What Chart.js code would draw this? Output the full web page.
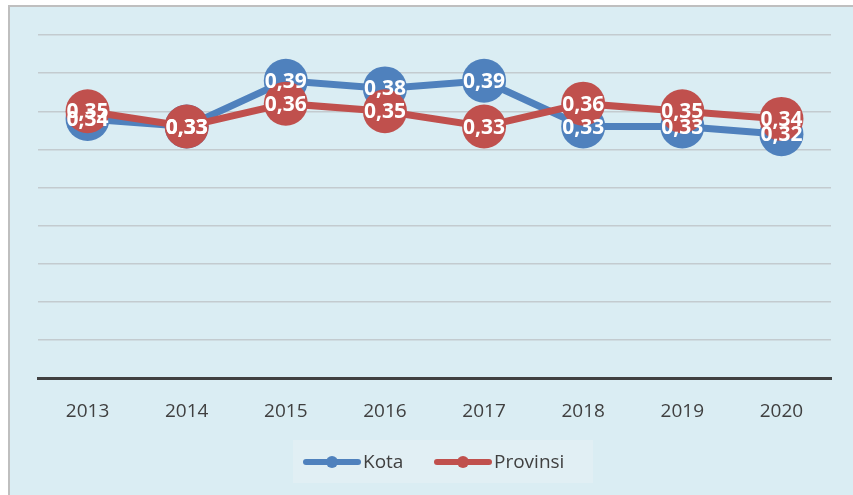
<!DOCTYPE html>
<html>
<head>
<meta charset="utf-8">
<script src="https://cdn.jsdelivr.net/npm/chart.js@4/dist/chart.umd.min.js"></script>
<style>
  html, body { margin: 0; padding: 0; background: #ffffff; }
  .box {
    position: absolute; left: 8px; top: 5px; width: 845px; height: 490px;
    border-left: 2px solid #bfbfbf; border-top: 2px solid #bfbfbf;
    background: #daedf3;
  }
  canvas { display: block; }
</style>
</head>
<body>
<div class="box">
  <canvas id="myChart" width="843" height="488"></canvas>
</div>
<script>
var years = ['2013', '2014', '2015', '2016', '2017', '2018', '2019', '2020'];
var kota = [0.34, 0.33, 0.39, 0.38, 0.39, 0.33, 0.33, 0.32];
var provinsi = [0.35, 0.33, 0.36, 0.35, 0.33, 0.36, 0.35, 0.34];

var blue = '#4f81bd';
var red = '#c0504d';

// labels on top of every marker, comma decimal like the original
var valueLabels = {
  id: 'valueLabels',
  afterDatasetsDraw: function (chart) {
    var ctx = chart.ctx;
    ctx.save();
    ctx.font = 'bold 21px "Open Sans", sans-serif';
    ctx.fillStyle = '#ffffff';
    ctx.textAlign = 'center';
    ctx.textBaseline = 'middle';
    chart.data.datasets.forEach(function (ds, i) {
      chart.getDatasetMeta(i).data.forEach(function (pt, j) {
        ctx.fillText(ds.data[j].toFixed(2).replace('.', ','), pt.x, pt.y + 1);
      });
    });
    ctx.restore();
  }
};

// legend with a box behind it
var boxLegend = {
  id: 'boxLegend',
  afterDraw: function (chart) {
    var ctx = chart.ctx;
    ctx.save();
    ctx.fillStyle = '#e1eff4';
    ctx.fillRect(283, 433, 300, 43);
    var items = [
      { x: 293, label: 'Kota', color: blue },
      { x: 424, label: 'Provinsi', color: red }
    ];
    var y = 455;
    items.forEach(function (it) {
      ctx.strokeStyle = it.color;
      ctx.lineWidth = 6;
      ctx.lineCap = 'round';
      ctx.beginPath();
      ctx.moveTo(it.x + 3, y);
      ctx.lineTo(it.x + 55, y);
      ctx.stroke();
      ctx.fillStyle = it.color;
      ctx.beginPath();
      ctx.arc(it.x + 29, y, 6, 0, Math.PI * 2);
      ctx.fill();
      ctx.fillStyle = '#404040';
      ctx.font = '19px "Open Sans", sans-serif';
      ctx.textAlign = 'left';
      ctx.textBaseline = 'middle';
      ctx.fillText(it.label, it.x + 60, y + 1);
    });
    ctx.restore();
  }
};

var ctx = document.getElementById('myChart').getContext('2d');
var chart = new Chart(ctx, {
  type: 'line',
  data: {
    labels: years,
    datasets: [
      {
        label: 'Kota',
        data: kota,
        order: 2,
        borderColor: blue,
        backgroundColor: blue,
        borderWidth: 7,
        pointRadius: 22,
        pointBorderWidth: 0,
        pointHoverRadius: 22,
        tension: 0
      },
      {
        label: 'Provinsi',
        data: provinsi,
        order: 1,
        borderColor: red,
        backgroundColor: red,
        borderWidth: 7,
        pointRadius: 22,
        pointBorderWidth: 0,
        pointHoverRadius: 22,
        tension: 0
      }
    ]
  },
  options: {
    responsive: false,
    animation: false,
    layout: { padding: { left: 28, right: 20, top: 28, bottom: 50 } },
    plugins: {
      legend: { display: false },
      tooltip: { enabled: false }
    },
    scales: {
      x: {
        offset: true,
        grid: { display: false, drawTicks: false },
        border: { color: '#404040', width: 3 },
        ticks: { color: '#404040', font: { family: '"Open Sans", sans-serif', size: 19 }, padding: 22 }
      },
      y: {
        min: 0,
        max: 0.45,
        ticks: { display: false, stepSize: 0.05 },
        grid: { color: '#c3cbcf', lineWidth: 1.5, drawTicks: false },
        border: { display: false }
      }
    }
  },
  plugins: [valueLabels, boxLegend]
});
</script>
</body>
</html>
